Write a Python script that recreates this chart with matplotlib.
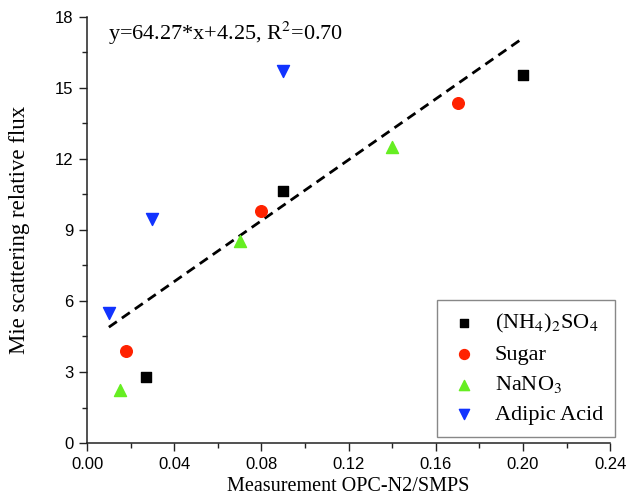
import matplotlib
matplotlib.use("Agg")
import matplotlib.pyplot as plt
import numpy as np

# Measured OPC-N2/SMPS ratio vs Mie scattering relative flux for each aerosol
ammsulf_x = [0.027, 0.09, 0.20]
ammsulf_y = [2.8, 10.65, 15.55]
sugar_x = [0.018, 0.08, 0.17]
sugar_y = [3.9, 9.8, 14.35]
nano3_x = [0.015, 0.07, 0.14]
nano3_y = [2.25, 8.55, 12.5]
adipic_x = [0.01, 0.03, 0.09]
adipic_y = [5.5, 9.45, 15.7]

fit_slope = 64.27
fit_intercept = 4.25
fit_r2 = 0.70
fit_xrange = [0.01, 0.20]

xticks = [0.00, 0.04, 0.08, 0.12, 0.16, 0.20, 0.24]
yticks = [0, 3, 6, 9, 12, 15, 18]

serif = ["Liberation Serif", "DejaVu Serif"]
sans = ["Liberation Sans", "DejaVu Sans"]

fig = plt.figure(figsize=(6.31, 4.95), dpi=100)
ax = fig.add_axes([0.138, 0.105, 0.829, 0.861])

ax.scatter(ammsulf_x, ammsulf_y, marker="s", s=55, color="black", label=r"(NH$_4$)$_2$SO$_4$", zorder=3)
ax.scatter(sugar_x, sugar_y, marker="o", s=70, color="#ff2200", label="Sugar", zorder=3)
ax.scatter(nano3_x, nano3_y, marker="^", s=75, color="#66ee22", label=r"NaNO$_3$", zorder=3)
ax.scatter(adipic_x, adipic_y, marker="v", s=75, color="#1133ff", label="Adipic Acid", zorder=3)

xf = np.array(fit_xrange)
ax.plot(xf, fit_slope * xf + fit_intercept, ls=(0, (3.5, 2.2)), color="black", lw=2, zorder=2)

ax.text(0.0096, 17.3, "y=%.2f*x+%.2f, R$^2$=%.2f" % (fit_slope, fit_intercept, fit_r2),
        fontsize=16, family=serif, math_fontfamily="stix", va="center")

ax.set_xlim(0, 0.24)
ax.set_ylim(0, 18)
ax.set_xticks(xticks)
ax.set_yticks(yticks)
ax.set_xticks(np.arange(0.02, 0.24, 0.04), minor=True)
ax.set_yticks(np.arange(1.5, 18, 3), minor=True)
ax.set_xticklabels(["%.2f" % v for v in xticks], family=sans, fontsize=12)
ax.set_yticklabels([str(v) for v in yticks], family=sans, fontsize=12)
ax.tick_params(which="major", direction="out", length=6, width=1, color="#222222", pad=4)
ax.tick_params(which="minor", direction="out", length=3.5, width=1, color="#222222")

for side in ("top", "right"):
    ax.spines[side].set_visible(False)
for side in ("left", "bottom"):
    ax.spines[side].set_linewidth(1.1)
    ax.spines[side].set_color("#222222")

ax.set_xlabel("Measurement OPC-N2/SMPS", family=serif, fontsize=14.5)
ax.set_ylabel("Mie scattering relative flux", family=serif, fontsize=16.5)
ax.xaxis.set_label_coords(0.5, -0.08)
ax.yaxis.set_label_coords(-0.11, 0.5)

leg = ax.legend(loc="lower right", bbox_to_anchor=(1.01, 0.013), fancybox=False,
                edgecolor="#888888", framealpha=1, prop={"family": serif, "size": 16},
                handlelength=1.3, handletextpad=0.75, borderpad=0.55, labelspacing=0.42,
                scatterpoints=1, markerscale=0.85, borderaxespad=0)
leg.get_frame().set_linewidth(1.0)
for t in leg.get_texts():
    t.set_math_fontfamily("stix")

fig.savefig("out.png", dpi=100, facecolor="white")
